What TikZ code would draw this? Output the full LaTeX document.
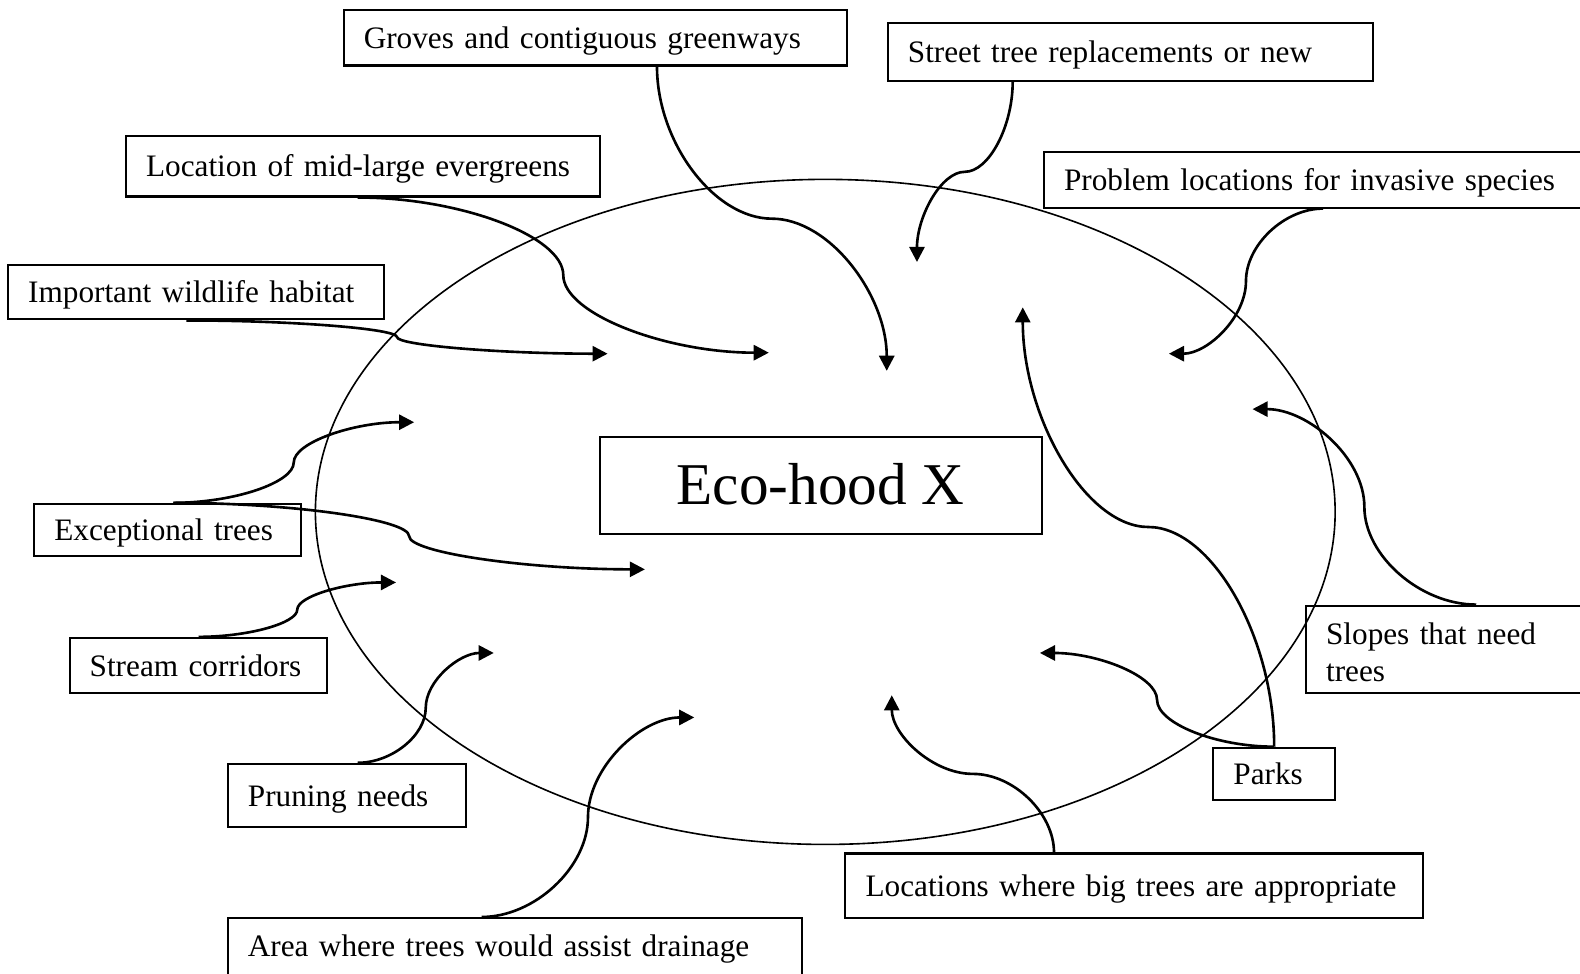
\documentclass[tikz,border=0pt]{standalone}
\usepackage{fontspec}
\setmainfont{Liberation Serif}
\usetikzlibrary{arrows.meta,calc}
% curved connector, horizontal at both ends
\newcommand{\hvh}[2]{%
  \draw[conn] (#1) let \p1=(#1), \p2=(#2) in
    .. controls ({0.75*\x1+0.25*\x2},\y1) and ({0.5*\x1+0.5*\x2},{0.75*\y1+0.25*\y2})
    .. ({0.5*\x1+0.5*\x2},{0.5*\y1+0.5*\y2})
    .. controls ({0.5*\x1+0.5*\x2},{0.25*\y1+0.75*\y2}) and ({0.25*\x1+0.75*\x2},\y2)
    .. (#2);
}
% curved connector, vertical at both ends
\newcommand{\vhv}[2]{%
  \draw[conn] (#1) let \p1=(#1), \p2=(#2) in
    .. controls (\x1,{0.75*\y1+0.25*\y2}) and ({0.75*\x1+0.25*\x2},{0.5*\y1+0.5*\y2})
    .. ({0.5*\x1+0.5*\x2},{0.5*\y1+0.5*\y2})
    .. controls ({0.25*\x1+0.75*\x2},{0.5*\y1+0.5*\y2}) and (\x2,{0.25*\y1+0.75*\y2})
    .. (#2);
}
\tikzset{
  labelbox/.style={draw,line width=1pt,rectangle,anchor=north west,align=left,
    inner xsep=10pt,inner ysep=0pt,text height=10.5pt,text depth=0pt,
    font=\fontsize{15.5}{18}\selectfont},
  hoodbox/.style={draw,line width=1pt,rectangle,anchor=north west,
    inner sep=0pt,text height=19pt,text depth=0pt,
    font=\fontsize{29.4}{34}\selectfont},
  conn/.style={line width=1.3pt,-{Triangle[length=7.5pt,width=7.5pt]}}
}

\begin{document}
\begin{tikzpicture}[x=0.5pt,y=-0.5pt]
  \useasboundingbox (0,0) rectangle (1568,966);
  \clip (0,0) rectangle (1568,966);

  % the neighbourhood
  \draw[line width=0.8pt] (819,508) ellipse [x radius=506, y radius=330];
  \node[hoodbox,minimum width=219.5pt,minimum height=48pt] (hood) at (594,433) {Eco-hood X};

  % labels
  \node[labelbox,text width=230pt,minimum height=27.5pt] (groves) at (340,9) {Groves and contiguous greenways};
  \node[labelbox,text width=221pt,minimum height=28.5pt] (street) at (880,22) {Street tree replacements or new};
  \node[labelbox,text width=215pt,minimum height=30pt] (evergreen) at (124,134) {Location of mid-large evergreens};
  \node[labelbox,text width=260pt,minimum height=27.5pt] (invasive) at (1035,150) {Problem locations for invasive species};
  \node[labelbox,text width=166.5pt,minimum height=27pt] (habitat) at (7,262) {Important wildlife habitat};
  \node[labelbox,text width=112.5pt,minimum height=26pt] (exceptional) at (33,499) {Exceptional trees};
  \node[labelbox,text width=108pt,minimum height=27.5pt] (stream) at (68,632) {Stream corridors};
  \node[labelbox,text width=98pt,minimum height=31.5pt] (pruning) at (225,757) {Pruning needs};
  \node[labelbox,text width=265pt,minimum height=60pt,text depth=32.5pt] (drainage) at (225,910) {Area where trees would assist drainage};
  \node[labelbox,text width=266.5pt,minimum height=32pt] (bigtrees) at (838,846) {Locations where big trees are appropriate};
  \node[labelbox,text width=40.5pt,minimum height=26pt] (parks) at (1203,741) {Parks};
  \node[labelbox,text width=130pt,minimum height=43.5pt,text depth=15pt] (slopes) at (1295,600) {Slopes that need\\trees};

  % arrow tips
  \coordinate (t-groves) at (880,368);
  \coordinate (t-street) at (910,260);
  \coordinate (t-evergreen) at (763,350);
  \coordinate (t-invasive) at (1160,351);
  \coordinate (t-habitat) at (603,351);
  \coordinate (t-except1) at (411,419);
  \coordinate (t-except2) at (640,565);
  \coordinate (t-stream) at (393,578);
  \coordinate (t-pruning) at (490,648);
  \coordinate (t-drainage) at (689,712);
  \coordinate (t-bigtrees) at (885,690);
  \coordinate (t-parks1) at (1015,305);
  \coordinate (t-parks2) at (1032,648);
  \coordinate (t-slopes) at (1243,406);

  % connectors
  \vhv{$(groves.south west)+(312,0)$}{t-groves}
  \vhv{$(street.south west)+(125,0)$}{t-street}
  \hvh{$(evergreen.south west)+(231,0)$}{t-evergreen}
  \hvh{$(invasive.south west)+(278,0)$}{t-invasive}
  \hvh{$(habitat.south west)+(178,0)$}{t-habitat}
  \hvh{$(exceptional.north west)+(139,0)$}{t-except1}
  \hvh{$(exceptional.north west)+(139,0)$}{t-except2}
  \hvh{$(stream.north west)+(129,0)$}{t-stream}
  \hvh{$(pruning.north west)+(130,0)$}{t-pruning}
  \hvh{$(drainage.north west)+(253,0)$}{t-drainage}
  \vhv{$(bigtrees.north west)+(208,0)$}{t-bigtrees}
  \vhv{parks.north}{t-parks1}
  \hvh{parks.north}{t-parks2}
  \hvh{$(slopes.north west)+(170,0)$}{t-slopes}
\end{tikzpicture}
\end{document}
